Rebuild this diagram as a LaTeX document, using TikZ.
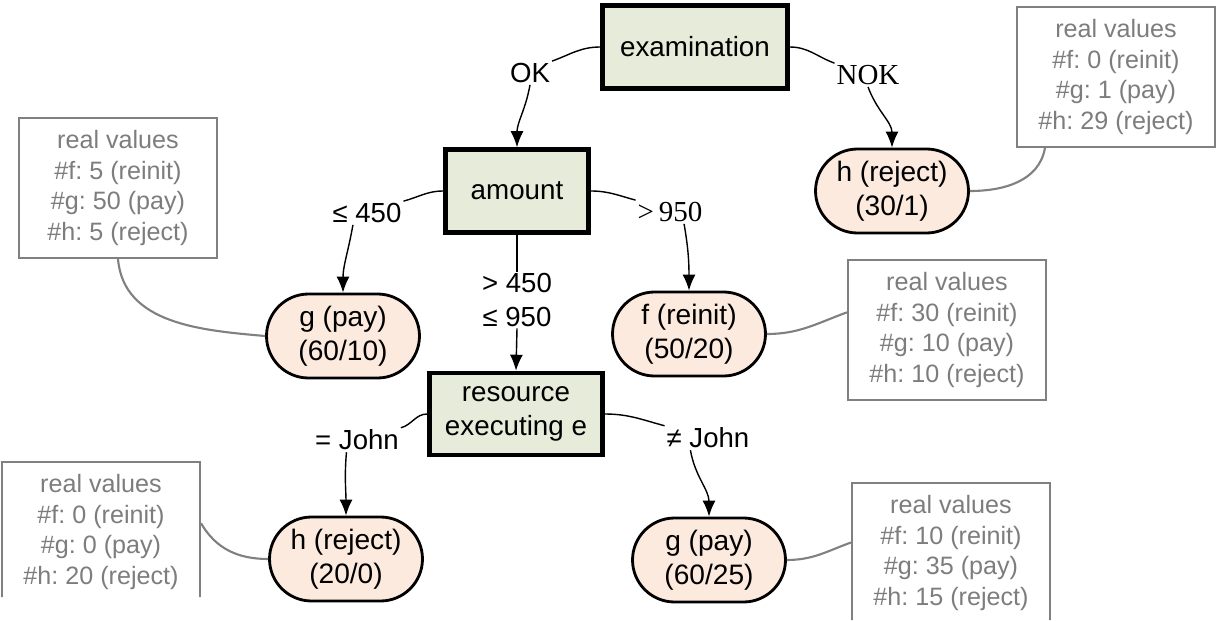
\documentclass[tikz,border=0pt]{standalone}
\usepackage{fontspec}
\setmainfont{Liberation Sans}
\newfontfamily\serifcond{Liberation Serif}
\usetikzlibrary{arrows.meta,shapes.misc}
\definecolor{TestFill}{RGB}{230,235,218}
\definecolor{LeafFill}{RGB}{252,234,222}
\definecolor{NoteLine}{RGB}{128,128,128}
\definecolor{NoteText}{RGB}{125,125,125}
\frenchspacing
\tikzset{
  >=Latex,
  test/.style={draw=black,line width=2.6pt,fill=TestFill,align=center,font=\fontsize{15.8}{19.5}\selectfont,minimum height=1.66cm,inner xsep=6pt},
  leaf/.style={rounded rectangle,draw=black,line width=1.6pt,fill=LeafFill,align=center,font=\fontsize{16}{19.5}\selectfont,minimum width=3.2cm,minimum height=1.68cm,inner sep=2pt},
  realbox/.style={draw=NoteLine,line width=1.2pt,fill=white,text=NoteText,align=center,font=\fontsize{14.3}{17.6}\selectfont,minimum width=3.96cm,minimum height=2.8cm},
  cond/.style={font=\fontsize{15.7}{18.8}\selectfont,align=center,inner sep=1pt},
  condserif/.style={cond,font=\fontsize{16.5}{19}\serifcond},
  branch/.style={draw=black,line width=0.8pt},
  branchto/.style={branch,-{Latex[length=3.2mm,width=2.6mm]}},
  noteline/.style={draw=NoteLine,line width=1.2pt}
}
\begin{document}
\begin{tikzpicture}[x=1cm,y=1cm]
  \useasboundingbox (0,0) rectangle (24.62,12.4);
  \clip (0,0.46) -- (4.8,0.46) -- (4.8,0) -- (24.62,0) -- (24.62,12.4) -- (0,12.4) -- cycle;
  % decision nodes
  \node[test,minimum width=3.7cm] (exam) at (13.90,11.46) {examination};
  \node[test,minimum width=2.86cm] (amount) at (10.34,8.58) {amount};
  \node[test,minimum width=3.46cm,minimum height=1.64cm] (res) at (10.32,4.12) {resource\\executing e};
  % leaves
  \node[leaf] (hnok) at (17.84,8.58) {h (reject)\\(30/1)};
  \node[leaf] (glow) at (6.86,5.68) {g (pay)\\(60/10)};
  \node[leaf] (fhigh) at (13.78,5.72) {f (reinit)\\(50/20)};
  \node[leaf] (hjohn) at (6.92,1.22) {h (reject)\\(20/0)};
  \node[leaf] (gother) at (14.18,1.20) {g (pay)\\(60/25)};
  % real values
  \node[realbox] (rnok) at (22.32,10.86) {real values\\\#f: 0 (reinit)\\\#g: 1 (pay)\\\#h: 29 (reject)};
  \node[realbox] (rlow) at (2.36,8.64) {real values\\\#f: 5 (reinit)\\\#g: 50 (pay)\\\#h: 5 (reject)};
  \node[realbox] (rhigh) at (18.94,5.80) {real values\\\#f: 30 (reinit)\\\#g: 10 (pay)\\\#h: 10 (reject)};
  \node[realbox] (rjohn) at (2.02,1.76) {real values\\\#f: 0 (reinit)\\\#g: 0 (pay)\\\#h: 20 (reject)};
  \node[realbox] (rother) at (19.02,1.34) {real values\\\#f: 10 (reinit)\\\#g: 35 (pay)\\\#h: 15 (reject)};
  % branch labels
  \node[cond] (ok) at (10.60,10.94) {OK};
  \node[condserif] (nok) at (17.36,10.90) {NOK};
  \node[cond] (le) at (7.34,8.14) {≤ 450};
  \node[condserif] (gt) at (13.40,8.16) {>\,950};
  \node[cond] (mid) at (10.34,6.40) {> 450\\≤ 950};
  \node[cond] (eq) at (7.14,3.60) {= John};
  \node[cond] (ne) at (14.16,3.64) {≠ John};
  % branches
  \draw[branch] (exam.west) to[out=180,in=20] (ok.north east);
  \draw[branchto] (ok.south) to[out=-100,in=90] (amount.north);
  \draw[branch] (exam.east) to[out=0,in=160] (nok.north west);
  \draw[branchto] (nok.south) to[out=-70,in=90] (hnok.north);
  \draw[branch] (amount.west) to[out=180,in=15] (le.north east);
  \draw[branchto] ([xshift=-8pt]le.south) to[out=-100,in=90] (glow.north);
  \draw[branch] (amount.east) to[out=0,in=165] (gt.north west);
  \draw[branchto] ([xshift=8pt]gt.south) to[out=-80,in=90] (fhigh.north);
  \draw[branch] (amount.south) -- (mid.north);
  \draw[branchto] (mid.south) -- (res.north);
  \draw[branch] (res.west) to[out=180,in=15] (eq.north east);
  \draw[branchto] ([xshift=-6pt]eq.south) to[out=-95,in=90] (hjohn.north);
  \draw[branch] (res.east) to[out=0,in=165] (ne.north west);
  \draw[branchto] ([xshift=-10pt]ne.south) to[out=-80,in=90] (gother.north);
  % notes
  \draw[noteline] (rnok.225) to[out=-100,in=0] (hnok.east);
  \draw[noteline] (rlow.south) to[out=-85,in=175] (glow.west);
  \draw[noteline] (fhigh.east) to[out=0,in=200] (rhigh.170);
  \draw[noteline] (rjohn.5) to[out=-60,in=180] (hjohn.west);
  \draw[noteline] (gother.east) to[out=0,in=200] (rother.174);
\end{tikzpicture}
\end{document}
